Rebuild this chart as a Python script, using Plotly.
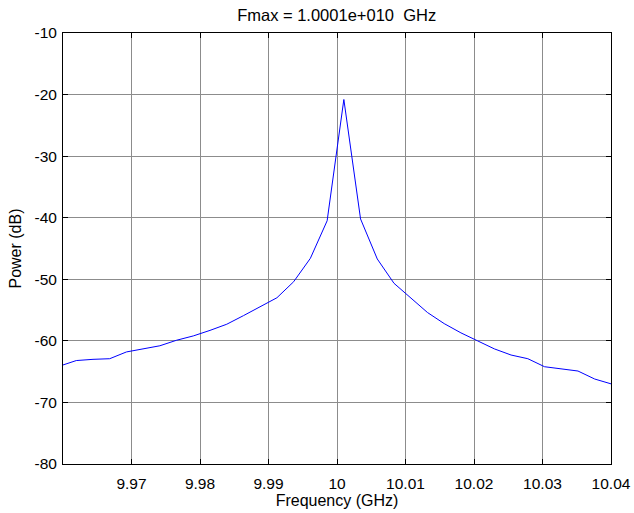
import plotly.graph_objects as go

# Frequency samples (GHz) and power (dB)
freq_ghz = [9.95950, 9.96194, 9.96438, 9.96682, 9.96926, 9.97170, 9.97414, 9.97658,
            9.97902, 9.98146, 9.98391, 9.98635, 9.98879, 9.99123, 9.99367, 9.99611,
            9.99856, 10.00100, 10.00344, 10.00588, 10.00832, 10.01077, 10.01321,
            10.01565, 10.01809, 10.02053, 10.02297, 10.02541, 10.02786, 10.03030,
            10.03274, 10.03518, 10.03762, 10.04006]
power_db = [-64.1, -63.2, -63.0, -62.9, -61.8, -61.3, -60.8, -59.9,
            -59.2, -58.3, -57.3, -55.9, -54.4, -53.0, -50.4, -46.6,
            -40.5, -20.8, -40.2, -46.7, -50.65, -53.0, -55.4,
            -57.2, -58.7, -60.0, -61.3, -62.3, -62.9, -64.2,
            -64.55, -64.9, -66.2, -67.0]

x_ticks = [9.97, 9.98, 9.99, 10.0, 10.01, 10.02, 10.03, 10.04]
x_ticktext = ["9.97", "9.98", "9.99", "10", "10.01", "10.02", "10.03", "10.04"]
y_ticks = [-80, -70, -60, -50, -40, -30, -20, -10]
y_ticktext = ["-80", "-70", "-60", "-50", "-40", "-30", "-20", "-10"]

title_text = "Fmax = 1.0001e+010  GHz"

fig = go.Figure()
fig.add_trace(go.Scatter(x=freq_ghz, y=power_db, mode="lines",
                         line=dict(color="#0000ff", width=1), showlegend=False))

fam = "Liberation Sans, Arial, sans-serif"
tick_font = dict(family=fam, size=15.5, color="black")
label_font = dict(family=fam, size=16, color="black")
title_font = dict(family=fam, size=16.5, color="black")

axis_common = dict(showline=True, linecolor="black", linewidth=1, mirror="ticks",
                   ticks="inside", ticklen=5, tickcolor="black",
                   showgrid=True, gridcolor="#8c8c8c", gridwidth=1, zeroline=False,
                   tickfont=tick_font, automargin=False)

fig.update_xaxes(range=[9.96, 10.04], tickvals=x_ticks, ticktext=x_ticktext,
                 ticklabelstandoff=5,
                 title=dict(text="Frequency (GHz)", font=label_font, standoff=3), **axis_common)
fig.update_yaxes(range=[-80, -10], tickvals=y_ticks, ticktext=y_ticktext,
                 ticklabelstandoff=2,
                 title=dict(text="Power (dB)", font=label_font, standoff=8), **axis_common)

fig.update_layout(
    width=634, height=513,
    margin=dict(l=63, r=23, t=33, b=49, autoexpand=False),
    paper_bgcolor="white", plot_bgcolor="white",
    title=dict(text=title_text, font=title_font, x=0.531, xanchor="center",
               y=1 - 15 / 513, yanchor="middle", automargin=False),
    font=tick_font,
)

fig.write_html(
    "out.html",
    config={"displayModeBar": False},
    post_script="document.body.style.margin='0';document.body.style.overflow='hidden';",
)
